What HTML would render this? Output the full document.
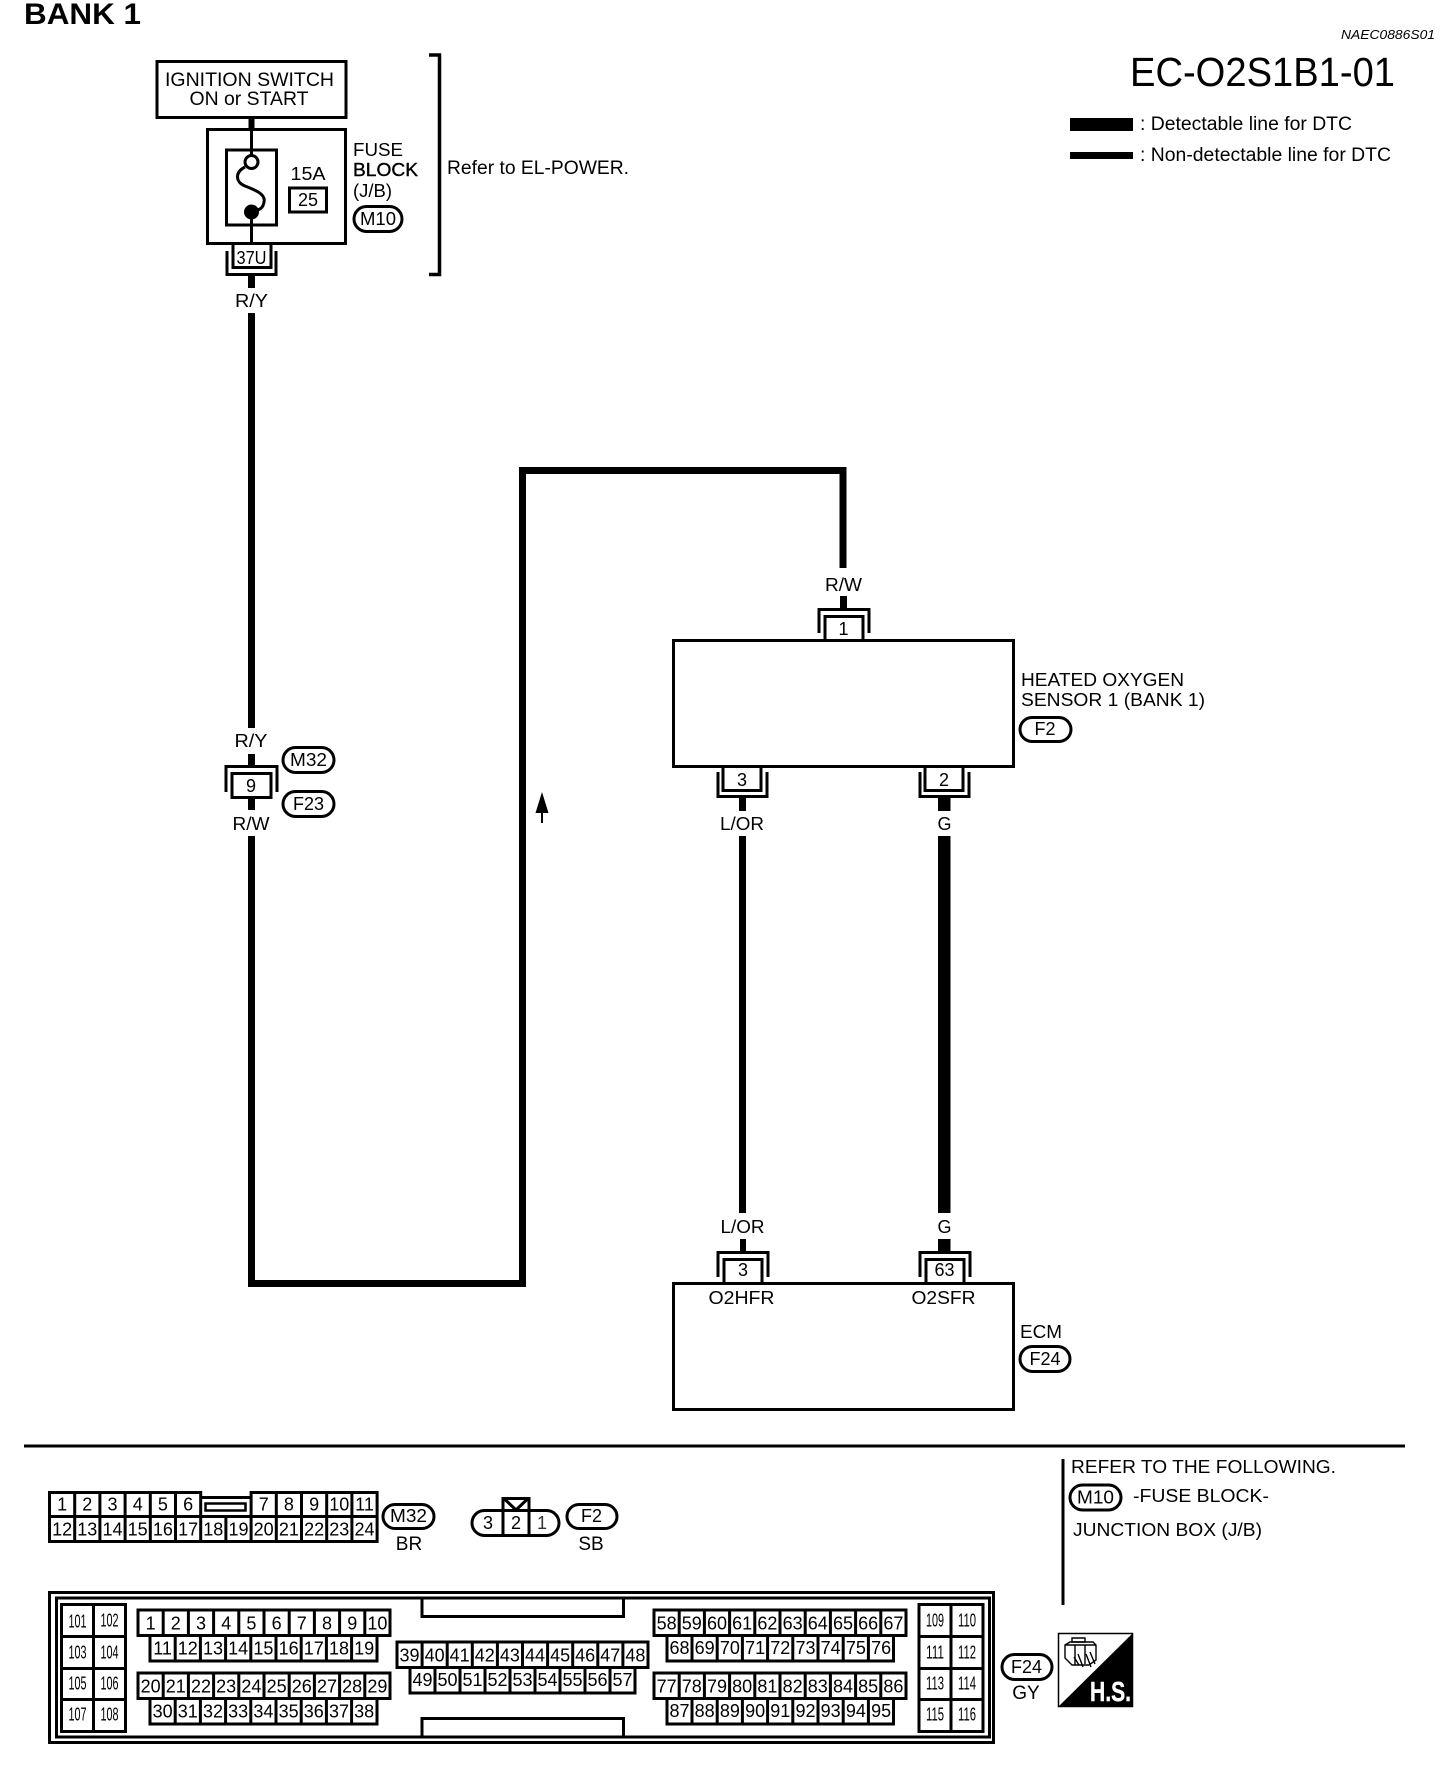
<!DOCTYPE html>
<html><head><meta charset="utf-8"><style>
html,body{margin:0;padding:0;background:#fff}
svg{display:block}
text{font-family:"Liberation Sans",sans-serif;font-size:18px;fill:#000}
.c{text-anchor:middle}
.n{font-size:18px;text-anchor:middle}
.s{font-size:18px;text-anchor:middle}
.g{fill:none;stroke:#000;stroke-width:3}
.w{fill:none;stroke:#000;stroke-width:7}
.f{fill:#000;stroke:none}
</style></head><body>
<svg xmlns="http://www.w3.org/2000/svg" width="1456" height="1772" viewBox="0 0 1456 1772">
<rect width="1456" height="1772" fill="#fff"/>

<text x="24" y="24" style="font-size:30px;font-weight:bold" textLength="117" lengthAdjust="spacingAndGlyphs">BANK 1</text>
<text x="1341" y="39" style="font-size:12.5px;font-style:italic" textLength="94" lengthAdjust="spacingAndGlyphs">NAEC0886S01</text>
<text x="1130" y="86" style="font-size:41px" textLength="265" lengthAdjust="spacingAndGlyphs">EC-O2S1B1-01</text>
<rect class="f" x="1070" y="118" width="63" height="13"/>
<rect class="f" x="1070" y="152" width="63" height="7"/>
<text x="1140" y="130" style="font-size:19px" textLength="212" lengthAdjust="spacingAndGlyphs">: Detectable line for DTC</text>
<text x="1140" y="161" style="font-size:19px" textLength="251" lengthAdjust="spacingAndGlyphs">: Non-detectable line for DTC</text>

<!-- ignition -->
<rect class="g" x="157" y="61.5" width="189" height="56"/>
<text x="165" y="86" textLength="169" lengthAdjust="spacingAndGlyphs" style="font-size:19px">IGNITION SWITCH</text>
<text x="189.5" y="105" textLength="119" lengthAdjust="spacingAndGlyphs" style="font-size:19px">ON or START</text>
<path class="g" d="M429 55H439.5V274.5H429" style="stroke-width:3.5"/>
<text x="447" y="174" textLength="182" lengthAdjust="spacingAndGlyphs" style="font-size:19px">Refer to EL-POWER.</text>

<!-- fuse -->
<rect class="f" x="248.5" y="118" width="6" height="11"/>
<rect class="g" x="207.5" y="129.5" width="138" height="114"/>
<rect class="g" x="226.5" y="150" width="50" height="75"/>
<path class="g" d="M251.5 130V155M251.5 218V244"/>
<circle cx="251.5" cy="162" r="6.5" fill="#fff" stroke="#000" stroke-width="3"/>
<circle cx="251.5" cy="212" r="7.5" fill="#000"/>
<path class="g" d="M245 167C235 172 235 182 245 186C255 190 266 194 264 202C263 208 260 209 258 210" stroke-width="2.5"/>
<text x="308" y="180" class="c" style="font-size:18.5px" textLength="35" lengthAdjust="spacingAndGlyphs">15A</text>
<rect class="g" x="289.5" y="188" width="37" height="24"/>
<text x="308" y="206" class="c" style="font-size:18px">25</text>
<text x="353" y="156" style="font-size:18.5px" textLength="50" lengthAdjust="spacingAndGlyphs">FUSE</text>
<text x="353" y="176" style="font-size:18.5px;stroke:#000;stroke-width:.4" textLength="65" lengthAdjust="spacingAndGlyphs">BLOCK</text>
<text x="353" y="197" style="font-size:18.5px">(J/B)</text>
<rect class="g" x="354" y="206.5" width="48" height="25" rx="12.5"/>
<text x="378" y="225" class="c" style="font-size:18px" textLength="36" lengthAdjust="spacingAndGlyphs">M10</text>
<!-- 37U -->
<path class="g" d="M233 244V267.5H271V244"/>
<path class="g" d="M227 251V274.5H276V251"/>
<text x="251.5" y="264" class="c" style="font-size:18px" textLength="30" lengthAdjust="spacingAndGlyphs">37U</text>
<rect class="f" x="248" y="276" width="7" height="12"/>
<text x="251.5" y="307" class="c" textLength="33" lengthAdjust="spacingAndGlyphs">R/Y</text>
<rect class="f" x="248" y="313" width="7" height="415"/>

<!-- 9 -->
<text x="251" y="747" class="c" textLength="33" lengthAdjust="spacingAndGlyphs">R/Y</text>
<rect class="f" x="248" y="754" width="7" height="12"/>
<path class="g" d="M226 792V766.5H277V792"/>
<rect class="g" x="232" y="773.5" width="39" height="24"/>
<text x="251" y="792" class="c">9</text>
<rect class="f" x="248" y="798" width="7" height="12"/>
<text x="251" y="830" class="c" textLength="37" lengthAdjust="spacingAndGlyphs">R/W</text>
<rect class="g" x="283" y="747.5" width="51" height="25" rx="12.5"/>
<text x="308.5" y="766" class="c" textLength="37" lengthAdjust="spacingAndGlyphs">M32</text>
<rect class="g" x="283" y="791.5" width="51" height="25" rx="12.5"/>
<text x="308.5" y="810" class="c">F23</text>

<!-- big wire -->
<path class="w" d="M251.5 836V1283.5H522.5V470.5H843V568" stroke-linejoin="miter"/>
<path class="f" d="M542 792L548.5 813H543V823H541V813H535.5Z"/>

<!-- sensor -->
<text x="843.5" y="591" class="c" textLength="37" lengthAdjust="spacingAndGlyphs">R/W</text>
<rect class="f" x="840" y="596" width="7" height="12"/>
<path class="g" d="M819 633V609.5H869V633"/>
<path class="g" d="M825 640V616.5H863V640"/>
<text x="843.5" y="635" class="c">1</text>
<rect class="g" x="673.5" y="640.5" width="340" height="126"/>
<text x="1021" y="686" textLength="163" lengthAdjust="spacingAndGlyphs">HEATED OXYGEN</text>
<text x="1021" y="706" textLength="184" lengthAdjust="spacingAndGlyphs">SENSOR 1 (BANK 1)</text>
<rect class="g" x="1020" y="717.5" width="51" height="24" rx="12"/>
<text x="1045" y="735" class="c">F2</text>

<path class="g" d="M723 767V790.5H761V767"/>
<path class="g" d="M718 772V796.5H767V772"/>
<text x="742" y="786" class="c">3</text>
<path class="g" d="M925 767V790.5H963V767"/>
<path class="g" d="M920 772V796.5H969V772"/>
<text x="944" y="786" class="c">2</text>
<rect class="f" x="739" y="798" width="7" height="13"/>
<rect class="f" x="938" y="798" width="12.5" height="13"/>
<text x="742" y="830" class="c" textLength="44" lengthAdjust="spacingAndGlyphs">L/OR</text>
<text x="944.5" y="830" class="c">G</text>
<rect class="f" x="739" y="836" width="7" height="377"/>
<rect class="f" x="938" y="836" width="12.5" height="377"/>
<text x="742.5" y="1233" class="c" textLength="44" lengthAdjust="spacingAndGlyphs">L/OR</text>
<text x="944.5" y="1233" class="c">G</text>
<rect class="f" x="740" y="1239" width="6" height="12"/>
<rect class="f" x="938" y="1239" width="12.5" height="12"/>
<path class="g" d="M718 1277V1252.5H768V1277"/>
<path class="g" d="M724 1284V1259.5H762V1284"/>
<text x="743" y="1276" class="c">3</text>
<path class="g" d="M920 1277V1252.5H970V1277"/>
<path class="g" d="M926 1284V1259.5H964V1284"/>
<text x="944.5" y="1276" class="c">63</text>
<rect class="g" x="673.5" y="1283.5" width="340" height="126"/>
<text x="708.5" y="1304" textLength="66" lengthAdjust="spacingAndGlyphs">O2HFR</text>
<text x="911.5" y="1304" textLength="64" lengthAdjust="spacingAndGlyphs">O2SFR</text>
<text x="1020" y="1338" textLength="42" lengthAdjust="spacingAndGlyphs">ECM</text>
<rect class="g" x="1020" y="1346.5" width="50" height="25" rx="12.5"/>
<text x="1045" y="1365" class="c">F24</text>

<!-- bottom -->
<rect class="f" x="24" y="1444.5" width="1381" height="3"/>
<rect class="f" x="1061.5" y="1459" width="3" height="146"/>
<text x="1071" y="1473" textLength="265" lengthAdjust="spacingAndGlyphs">REFER TO THE FOLLOWING.</text>
<rect class="g" x="1070" y="1485" width="51" height="25" rx="12.5"/>
<text x="1095.5" y="1503.5" class="c" textLength="37" lengthAdjust="spacingAndGlyphs">M10</text>
<text x="1133" y="1502" textLength="136" lengthAdjust="spacingAndGlyphs">-FUSE BLOCK-</text>
<text x="1073" y="1536" textLength="189" lengthAdjust="spacingAndGlyphs">JUNCTION BOX (J/B)</text>

<!-- M32 conn -->
<g transform="translate(49.5,1492.5)">
<path class="g" d="M0 0H151.2V24H201.6V0H327.6V49H0ZM0 24H327.6M25.2 0V49M50.4 0V49M75.6 0V49M100.8 0V49M126 0V49M151.2 24V49M176.4 24V49M201.6 24V49M226.8 0V49M252 0V49M277.2 0V49M302.4 0V49M151.2 5H201.6"/>
<rect x="156" y="11" width="40" height="7" fill="none" stroke="#000" stroke-width="2.5"/>
<text class="n" x="12.6" y="18">1</text><text class="n" x="37.8" y="18">2</text><text class="n" x="63" y="18">3</text><text class="n" x="88.2" y="18">4</text><text class="n" x="113.4" y="18">5</text><text class="n" x="138.6" y="18">6</text><text class="n" x="214.2" y="18">7</text><text class="n" x="239.4" y="18">8</text><text class="n" x="264.6" y="18">9</text><text class="n" x="289.8" y="18">10</text><text class="n" x="315" y="18">11</text>
<text class="n" x="12.6" y="43">12</text><text class="n" x="37.8" y="43">13</text><text class="n" x="63" y="43">14</text><text class="n" x="88.2" y="43">15</text><text class="n" x="113.4" y="43">16</text><text class="n" x="138.6" y="43">17</text><text class="n" x="163.8" y="43">18</text><text class="n" x="189" y="43">19</text><text class="n" x="214.2" y="43">20</text><text class="n" x="239.4" y="43">21</text><text class="n" x="264.6" y="43">22</text><text class="n" x="289.8" y="43">23</text><text class="n" x="315" y="43">24</text>
</g>
<rect class="g" x="383" y="1504.5" width="51" height="24" rx="12"/>
<text x="408.5" y="1522" class="c" textLength="37" lengthAdjust="spacingAndGlyphs">M32</text>
<text x="409" y="1550" class="c" style="font-size:19px">BR</text>

<!-- F2 conn -->
<rect class="g" x="472" y="1510.5" width="87" height="25" rx="12.5"/>
<path class="g" d="M503 1510V1536M529 1510V1536M503 1510V1498.5H529V1510"/>
<path class="g" d="M504.5 1499L516 1510L527.5 1499" stroke-width="2.5"/>
<text x="488" y="1529" class="c">3</text><text x="516" y="1529" class="c">2</text><text x="542" y="1529" class="c" style="fill:#333">1</text>
<rect class="g" x="567" y="1504.5" width="50" height="24" rx="12"/>
<text x="591.5" y="1522" class="c">F2</text>
<text x="591" y="1550" class="c" style="font-size:19px">SB</text>

<!-- ECM conn frame -->
<rect class="g" x="49.5" y="1592.5" width="944" height="150"/>
<rect class="g" x="56.5" y="1598" width="933" height="139"/>
<path class="g" d="M422 1598V1616.5H623.5V1598M422 1737V1718.5H623.5V1737"/>

<!-- left pin block -->
<g transform="translate(61.5,1604.5)">
<path class="g" d="M0 0H64V127H0ZM32 0V127M0 32H64M0 64H64M0 95H64"/>
<text class="s" x="16" y="23" textLength="18" lengthAdjust="spacingAndGlyphs">101</text><text class="s" x="48" y="22" textLength="18" lengthAdjust="spacingAndGlyphs">102</text>
<text class="s" x="16" y="54" textLength="18" lengthAdjust="spacingAndGlyphs">103</text><text class="s" x="48" y="54" textLength="18" lengthAdjust="spacingAndGlyphs">104</text>
<text class="s" x="16" y="85" textLength="18" lengthAdjust="spacingAndGlyphs">105</text><text class="s" x="48" y="85" textLength="18" lengthAdjust="spacingAndGlyphs">106</text>
<text class="s" x="16" y="116" textLength="18" lengthAdjust="spacingAndGlyphs">107</text><text class="s" x="48" y="116" textLength="18" lengthAdjust="spacingAndGlyphs">108</text>
</g>

<!-- right pin block -->
<g transform="translate(919,1604.5)">
<path class="g" d="M0 0H64V127H0ZM32 0V127M0 32H64M0 64H64M0 95H64"/>
<text class="s" x="16" y="22" textLength="18" lengthAdjust="spacingAndGlyphs">109</text><text class="s" x="48" y="22" textLength="18" lengthAdjust="spacingAndGlyphs">110</text>
<text class="s" x="16" y="54" textLength="18" lengthAdjust="spacingAndGlyphs">111</text><text class="s" x="48" y="54" textLength="18" lengthAdjust="spacingAndGlyphs">112</text>
<text class="s" x="16" y="85" textLength="18" lengthAdjust="spacingAndGlyphs">113</text><text class="s" x="48" y="85" textLength="18" lengthAdjust="spacingAndGlyphs">114</text>
<text class="s" x="16" y="116" textLength="18" lengthAdjust="spacingAndGlyphs">115</text><text class="s" x="48" y="116" textLength="18" lengthAdjust="spacingAndGlyphs">116</text>
</g>

<!-- block A 1-19 -->
<g transform="translate(138,1610)">
<path class="g" d="M0 0H252V25.5H239V51H12V25.5H0ZM0 25.5H252M25.2 0V25.5M50.4 0V25.5M75.6 0V25.5M100.8 0V25.5M126 0V25.5M151.2 0V25.5M176.4 0V25.5M201.6 0V25.5M226.8 0V25.5M37.2 25.5V51M62.4 25.5V51M87.6 25.5V51M112.8 25.5V51M138 25.5V51M163.2 25.5V51M188.4 25.5V51M213.6 25.5V51"/>
<text class="n" x="12.6" y="19.5">1</text><text class="n" x="37.8" y="19.5">2</text><text class="n" x="63" y="19.5">3</text><text class="n" x="88.2" y="19.5">4</text><text class="n" x="113.4" y="19.5">5</text><text class="n" x="138.6" y="19.5">6</text><text class="n" x="163.8" y="19.5">7</text><text class="n" x="189" y="19.5">8</text><text class="n" x="214.2" y="19.5">9</text><text class="n" x="239.4" y="19.5">10</text>
<text class="n" x="24.6" y="44.5">11</text><text class="n" x="49.8" y="44.5">12</text><text class="n" x="75" y="44.5">13</text><text class="n" x="100.2" y="44.5">14</text><text class="n" x="125.4" y="44.5">15</text><text class="n" x="150.6" y="44.5">16</text><text class="n" x="175.8" y="44.5">17</text><text class="n" x="201" y="44.5">18</text><text class="n" x="226.2" y="44.5">19</text>
</g>

<!-- block B 20-38 -->
<g transform="translate(138,1673)">
<path class="g" d="M0 0H252V25.5H239V51H12V25.5H0ZM0 25.5H252M25.2 0V25.5M50.4 0V25.5M75.6 0V25.5M100.8 0V25.5M126 0V25.5M151.2 0V25.5M176.4 0V25.5M201.6 0V25.5M226.8 0V25.5M37.2 25.5V51M62.4 25.5V51M87.6 25.5V51M112.8 25.5V51M138 25.5V51M163.2 25.5V51M188.4 25.5V51M213.6 25.5V51"/>
<text class="n" x="12.6" y="19.5">20</text><text class="n" x="37.8" y="19.5">21</text><text class="n" x="63" y="19.5">22</text><text class="n" x="88.2" y="19.5">23</text><text class="n" x="113.4" y="19.5">24</text><text class="n" x="138.6" y="19.5">25</text><text class="n" x="163.8" y="19.5">26</text><text class="n" x="189" y="19.5">27</text><text class="n" x="214.2" y="19.5">28</text><text class="n" x="239.4" y="19.5">29</text>
<text class="n" x="24.6" y="44.5">30</text><text class="n" x="49.8" y="44.5">31</text><text class="n" x="75" y="44.5">32</text><text class="n" x="100.2" y="44.5">33</text><text class="n" x="125.4" y="44.5">34</text><text class="n" x="150.6" y="44.5">35</text><text class="n" x="175.8" y="44.5">36</text><text class="n" x="201" y="44.5">37</text><text class="n" x="226.2" y="44.5">38</text>
</g>

<!-- block C 39-57 -->
<g transform="translate(397,1642)">
<path class="g" d="M0 0H251V25.5H238V51H13V25.5H0ZM0 25.5H251M25.1 0V25.5M50.2 0V25.5M75.3 0V25.5M100.4 0V25.5M125.5 0V25.5M150.6 0V25.5M175.7 0V25.5M200.8 0V25.5M225.9 0V25.5M38 25.5V51M63 25.5V51M88 25.5V51M113 25.5V51M138 25.5V51M163 25.5V51M188 25.5V51M213 25.5V51"/>
<text class="n" x="12.5" y="19.5">39</text><text class="n" x="37.6" y="19.5">40</text><text class="n" x="62.7" y="19.5">41</text><text class="n" x="87.8" y="19.5">42</text><text class="n" x="112.9" y="19.5">43</text><text class="n" x="138" y="19.5">44</text><text class="n" x="163.1" y="19.5">45</text><text class="n" x="188.2" y="19.5">46</text><text class="n" x="213.3" y="19.5">47</text><text class="n" x="238.4" y="19.5">48</text>
<text class="n" x="25.5" y="44">49</text><text class="n" x="50.5" y="44">50</text><text class="n" x="75.5" y="44">51</text><text class="n" x="100.5" y="44">52</text><text class="n" x="125.5" y="44">53</text><text class="n" x="150.5" y="44">54</text><text class="n" x="175.5" y="44">55</text><text class="n" x="200.5" y="44">56</text><text class="n" x="225.5" y="44">57</text>
</g>

<!-- block D 58-76 -->
<g transform="translate(654,1610)">
<path class="g" d="M0 0H252V25.5H239.5V51H13V25.5H0ZM0 25.5H252M25.2 0V25.5M50.4 0V25.5M75.6 0V25.5M100.8 0V25.5M126 0V25.5M151.2 0V25.5M176.4 0V25.5M201.6 0V25.5M226.8 0V25.5M38 25.5V51M63.2 25.5V51M88.4 25.5V51M113.6 25.5V51M138.8 25.5V51M164 25.5V51M189.2 25.5V51M214.4 25.5V51"/>
<text class="n" x="12.6" y="19.5">58</text><text class="n" x="37.8" y="19.5">59</text><text class="n" x="63" y="19.5">60</text><text class="n" x="88.2" y="19.5">61</text><text class="n" x="113.4" y="19.5">62</text><text class="n" x="138.6" y="19.5">63</text><text class="n" x="163.8" y="19.5">64</text><text class="n" x="189" y="19.5">65</text><text class="n" x="214.2" y="19.5">66</text><text class="n" x="239.4" y="19.5">67</text>
<text class="n" x="25.5" y="44">68</text><text class="n" x="50.7" y="44">69</text><text class="n" x="75.9" y="44">70</text><text class="n" x="101.1" y="44">71</text><text class="n" x="126.3" y="44">72</text><text class="n" x="151.5" y="44">73</text><text class="n" x="176.7" y="44">74</text><text class="n" x="201.9" y="44">75</text><text class="n" x="227.1" y="44">76</text>
</g>

<!-- block E 77-95 -->
<g transform="translate(654,1673)">
<path class="g" d="M0 0H252V25.5H239.5V51H13V25.5H0ZM0 25.5H252M25.2 0V25.5M50.4 0V25.5M75.6 0V25.5M100.8 0V25.5M126 0V25.5M151.2 0V25.5M176.4 0V25.5M201.6 0V25.5M226.8 0V25.5M38 25.5V51M63.2 25.5V51M88.4 25.5V51M113.6 25.5V51M138.8 25.5V51M164 25.5V51M189.2 25.5V51M214.4 25.5V51"/>
<text class="n" x="12.6" y="19.5">77</text><text class="n" x="37.8" y="19.5">78</text><text class="n" x="63" y="19.5">79</text><text class="n" x="88.2" y="19.5">80</text><text class="n" x="113.4" y="19.5">81</text><text class="n" x="138.6" y="19.5">82</text><text class="n" x="163.8" y="19.5">83</text><text class="n" x="189" y="19.5">84</text><text class="n" x="214.2" y="19.5">85</text><text class="n" x="239.4" y="19.5">86</text>
<text class="n" x="25.5" y="44">87</text><text class="n" x="50.7" y="44">88</text><text class="n" x="75.9" y="44">89</text><text class="n" x="101.1" y="44">90</text><text class="n" x="126.3" y="44">91</text><text class="n" x="151.5" y="44">92</text><text class="n" x="176.7" y="44">93</text><text class="n" x="201.9" y="44">94</text><text class="n" x="227.1" y="44">95</text>
</g>

<!-- F24 bottom -->
<rect class="g" x="1002" y="1654.5" width="50" height="25" rx="12.5"/>
<text x="1026.5" y="1673" class="c">F24</text>
<text x="1026" y="1699" class="c" style="font-size:19px">GY</text>

<!-- HS icon -->
<rect x="1058.5" y="1633.5" width="74" height="73" fill="#fff" stroke="#000" stroke-width="1.5"/>
<path class="f" d="M1133 1633V1707H1058Z"/>
<text x="1090" y="1701" style="font-size:28px;font-weight:bold;fill:#fff;stroke:#fff;stroke-width:.4" textLength="41" lengthAdjust="spacingAndGlyphs">H.S.</text>
<g fill="none" stroke="#000" stroke-width="1.4">
<path d="M1065 1645L1070 1642H1093L1096 1645V1660L1089 1665H1072L1065 1658ZM1065 1645H1075V1665M1075 1645H1096M1085 1645V1664"/>
<path d="M1072 1638H1085V1642H1072Z"/>
<path d="M1074 1657L1079 1665M1078 1654L1083 1667M1086 1654L1091 1667M1090 1652L1095 1664"/>
</g>
</svg>
</body></html>
